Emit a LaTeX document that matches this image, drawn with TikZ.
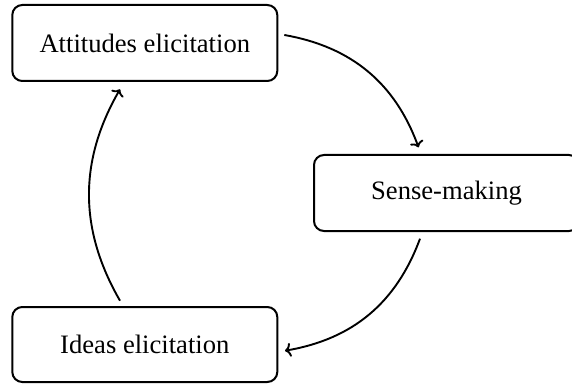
\documentclass[tikz,border=0pt]{standalone}
\usepackage{fontspec}
\setmainfont{Liberation Serif}
\usetikzlibrary{calc,arrows.meta}
\begin{document}
\begin{tikzpicture}[x=1pt,y=1pt,
  stagebox/.style={draw, line width=2pt, rounded corners=10pt, minimum width=265pt, minimum height=76pt, inner sep=0pt, font=\fontsize{26.6}{30}\selectfont},
  flow/.style={line width=1.9pt, -{To[length=6pt,width=14pt]}, bend left=30}]
\useasboundingbox (0,0) rectangle (572,386);
\node[stagebox] (A) at (144.8,343) {Attitudes elicitation};
\node[stagebox] (S) at (446.5,193) {Sense-making};
\node[stagebox, minimum height=75pt] (I) at (144.8,41.5) {Ideas elicitation};
\coordinate (a1) at ($(A.east)+(6,8)$);
\coordinate (s1) at ($(S.north)+(-28,6.7)$);
\coordinate (s2) at ($(S.south)+(-26.5,-6.7)$);
\coordinate (i2) at ($(I.east)+(6.7,-6.2)$);
\coordinate (i3) at ($(I.north)+(-24.8,5.3)$);
\coordinate (a3) at ($(A.south)+(-24.8,-7.3)$);
\draw[flow] (a1) to (s1);
\draw[flow] (s2) to (i2);
\draw[flow] (i3) to (a3);
\end{tikzpicture}
\end{document}
